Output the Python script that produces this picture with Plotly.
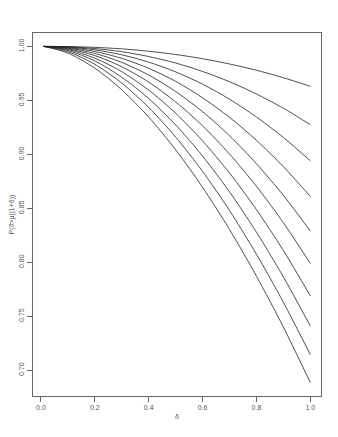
import plotly.graph_objects as go

delta = [0.01, 0.1, 0.2, 0.3, 0.4, 0.5, 0.6, 0.7, 0.8, 0.9, 1.0]

# one list per curve (top to bottom)
c1 = [1.0, 0.9998, 0.9991, 0.9977, 0.9955, 0.9925, 0.9886, 0.9837, 0.9779, 0.9710, 0.9630]
c2 = [1.0, 0.9996, 0.9980, 0.9951, 0.9906, 0.9846, 0.9768, 0.9673, 0.9559, 0.9427, 0.9275]
c3 = [1.0, 0.9993, 0.9968, 0.9922, 0.9854, 0.9764, 0.9650, 0.9511, 0.9346, 0.9156, 0.8940]
c4 = [1.0, 0.9989, 0.9953, 0.9889, 0.9797, 0.9676, 0.9524, 0.9343, 0.9130, 0.8886, 0.8610]
c5 = [1.0, 0.9984, 0.9935, 0.9852, 0.9735, 0.9582, 0.9395, 0.9172, 0.8913, 0.8620, 0.8290]
c6 = [1.0, 0.9978, 0.9915, 0.9812, 0.9669, 0.9486, 0.9264, 0.9003, 0.8704, 0.8366, 0.7990]
c7 = [1.0, 0.9971, 0.9891, 0.9766, 0.9595, 0.9381, 0.9125, 0.8827, 0.8488, 0.8109, 0.7690]
c8 = [1.0, 0.9962, 0.9865, 0.9715, 0.9517, 0.9273, 0.8984, 0.8653, 0.8279, 0.7865, 0.7410]
c9 = [1.0, 0.9951, 0.9834, 0.9660, 0.9434, 0.9161, 0.8842, 0.8480, 0.8075, 0.7630, 0.7145]
c10 = [1.0, 0.9938, 0.9798, 0.9598, 0.9345, 0.9043, 0.8695, 0.8304, 0.7872, 0.7400, 0.6886]

curves = [c1, c2, c3, c4, c5, c6, c7, c8, c9, c10]

fig = go.Figure()
for c in curves:
    fig.add_trace(go.Scatter(x=delta, y=c, mode='lines',
                             line=dict(color='#222222', width=0.8, shape='spline', smoothing=0.8),
                             showlegend=False, hoverinfo='skip'))

axis_common = dict(
    showgrid=False, zeroline=False, showline=True, mirror=True, automargin=False,
    linecolor='#666666', linewidth=1, ticks='outside', ticklen=5,
    tickcolor='#666666', tickfont=dict(family='Liberation Sans, Arial', size=7, color='#555555'),
)

# the page puts the figure 8px in from the top-left corner
fig.update_layout(
    width=338, height=437,
    margin=dict(l=25, r=25, t=25, b=49),
    plot_bgcolor='white', paper_bgcolor='white',
    font=dict(family='Liberation Sans, Arial', size=7, color='#555555'),
    xaxis=dict(range=[-0.0296, 1.0396], tickvals=[0, 0.2, 0.4, 0.6, 0.8, 1.0],
               tickformat='.1f', title=dict(text='δ', standoff=3, font=dict(size=7)),
               **axis_common),
    yaxis=dict(range=[0.6762, 1.0124], tickvals=[0.70, 0.75, 0.80, 0.85, 0.90, 0.95, 1.00],
               tickformat='.2f', tickangle=-90,
               title=dict(text='P(ϑ>μ|(1+δ))', standoff=8, font=dict(size=7)),
               **axis_common),
)

fig.write_html("out.html")
